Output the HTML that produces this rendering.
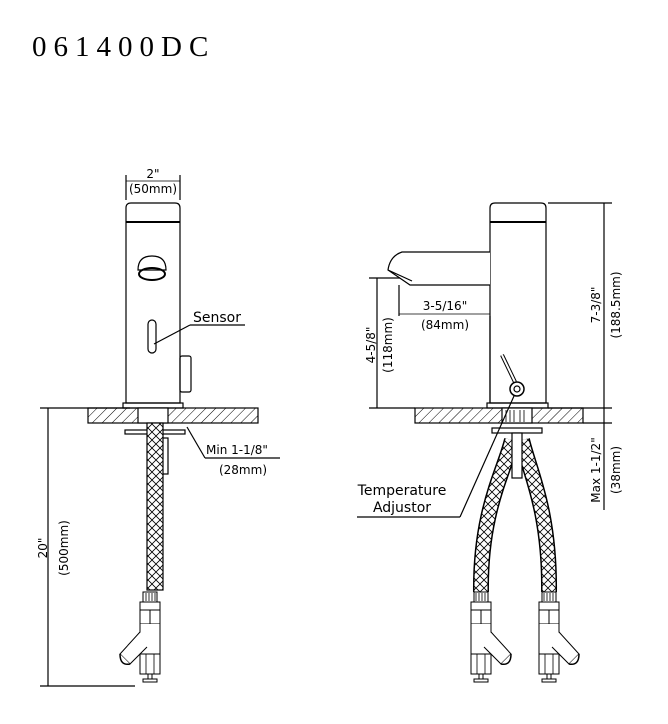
<!DOCTYPE html>
<html><head><meta charset="utf-8"><style>
html,body{margin:0;padding:0;background:#fff;}
svg{display:block;}
text{font-family:"DejaVu Sans","Liberation Sans",sans-serif;fill:#000;}
</style></head><body>
<svg width="668" height="724" viewBox="0 0 668 724" xmlns="http://www.w3.org/2000/svg">
<defs>
<pattern id="hatch" width="7" height="7" patternUnits="userSpaceOnUse" patternTransform="rotate(45)">
<line x1="0" y1="0" x2="0" y2="7" stroke="#000" stroke-width="1"/>
</pattern>
<pattern id="braid" width="8" height="8" patternUnits="userSpaceOnUse">
<rect width="8" height="8" fill="#fff"/>
<path d="M0 0L8 8M8 0L0 8" stroke="#000" stroke-width="0.8"/>
</pattern>
<g id="valveL">
<rect x="-7" y="0" width="14" height="10" fill="#fff" stroke="#000"/>
<path d="M-4 1v8M-1 1v8M2 1v8M5 1v8" stroke="#000" stroke-width="0.8"/>
<rect x="-10" y="10" width="20" height="8" fill="#fff" stroke="#000"/>
<rect x="-10" y="18" width="20" height="14" fill="#fff" stroke="#000"/>
<line x1="0" y1="18" x2="0" y2="32" stroke="#000"/>
<path d="M-10 32 L-10 62 L10 62 L10 32" fill="#fff" stroke="#000"/>
<path d="M-10 40 L-30 62 L-20 72 L-3 55" fill="#fff" stroke="#000"/>
<path d="M-30 62 Q-30 74 -20 72" fill="#fff" stroke="#000" stroke-width="1.5"/>
<rect x="-10" y="62" width="20" height="20" fill="#fff" stroke="#000"/>
<path d="M-4 62v20M4 62v20" stroke="#000" stroke-width="0.8"/>
<rect x="-2" y="82" width="4" height="5" fill="#fff" stroke="#000"/>
<rect x="-7" y="87" width="14" height="3" fill="#fff" stroke="#000"/>
</g>
</defs>

<text x="32" y="56" font-size="29" letter-spacing="7" style="font-family:'Liberation Serif',serif">061400DC</text>

<!-- LEFT VIEW -->
<g fill="none" stroke="#000" stroke-width="1.2">
<path d="M126 403 V208 Q126 203 131 203 H175 Q180 203 180 208 V403 Z" fill="#fff"/>
<line x1="126" y1="222" x2="180" y2="222" stroke-width="2"/>
<path d="M138 270 Q138 256 152 256 Q166 256 166 270 Z" fill="#fff"/>
<ellipse cx="152" cy="274" rx="13" ry="6" stroke-width="2"/>
<rect x="148" y="320" width="8" height="33" rx="4"/>
<line x1="154" y1="344" x2="190" y2="325"/>
<line x1="190" y1="325" x2="245" y2="325"/>
<rect x="180" y="356" width="11" height="36" rx="2"/>
<rect x="123" y="403" width="60" height="5"/>
<rect x="88" y="408" width="170" height="15" fill="url(#hatch)"/>
<rect x="138" y="408" width="30" height="15" fill="#fff"/>
<rect x="125" y="430" width="60" height="4" fill="#fff"/>
<rect x="160" y="438" width="8" height="36" fill="#fff"/>
<rect x="147" y="423" width="16" height="167" fill="url(#braid)"/>
<line x1="126" y1="175" x2="126" y2="200"/>
<line x1="180" y1="175" x2="180" y2="200"/>
<line x1="126" y1="181" x2="180" y2="181" stroke-width="0.8"/>
<line x1="187" y1="427" x2="205" y2="458"/>
<line x1="205" y1="458" x2="280" y2="458"/>
<line x1="48" y1="408" x2="48" y2="686"/>
<line x1="40" y1="408" x2="130" y2="408"/>
<line x1="40" y1="686" x2="135" y2="686"/>
</g>
<use href="#valveL" x="150" y="592"/>
<text x="153" y="178" font-size="12" text-anchor="middle">2"</text>
<text x="153" y="193" font-size="12" text-anchor="middle">(50mm)</text>
<text x="193" y="322" font-size="14">Sensor</text>
<text x="206" y="454" font-size="12">Min 1-1/8"</text>
<text x="243" y="474" font-size="12" text-anchor="middle">(28mm)</text>
<text transform="translate(47,548) rotate(-90)" font-size="12" text-anchor="middle">20"</text>
<text transform="translate(68,548) rotate(-90)" font-size="12" text-anchor="middle">(500mm)</text>

<!-- RIGHT VIEW -->
<g fill="none" stroke="#000" stroke-width="1.2">
<path d="M490 403 V208 Q490 203 495 203 H541 Q546 203 546 208 V403 Z" fill="#fff"/>
<line x1="490" y1="222" x2="546" y2="222" stroke-width="2"/>
<path d="M490 252 H402 Q390 256 388 270 L410 285 H490" fill="#fff"/>
<line x1="388" y1="270" x2="412" y2="281"/>
<line x1="399" y1="285" x2="399" y2="316"/>
<line x1="399" y1="314" x2="490" y2="314" stroke-width="0.8"/>
<line x1="490" y1="316" x2="490" y2="403"/>
<line x1="369" y1="278" x2="400" y2="278"/>
<line x1="377" y1="278" x2="377" y2="408"/>
<line x1="369" y1="408" x2="415" y2="408"/>
<line x1="502" y1="355" x2="515" y2="382" stroke-width="4"/>
<line x1="502" y1="355" x2="515" y2="382" stroke="#fff" stroke-width="2"/>
<circle cx="517" cy="389" r="7" fill="#fff" stroke-width="1.5"/>
<circle cx="517" cy="389" r="3"/>
<rect x="487" y="403" width="61" height="5"/>
<rect x="415" y="408" width="168" height="15" fill="url(#hatch)"/>
<rect x="502" y="408" width="30" height="15" fill="#fff"/>
<path d="M506 410v12M510 410v12M514 410v12M520 410v12M524 410v12" stroke-width="0.8"/>
<rect x="492" y="428" width="50" height="5" fill="#fff"/>
<path d="M512 440 C505 470 480 510 481 592" stroke="#000" stroke-width="16"/>
<path d="M512 440 C505 470 480 510 481 592" stroke="url(#braid)" stroke-width="13"/>
<path d="M522 440 C529 470 550 510 549 592" stroke="#000" stroke-width="16"/>
<path d="M522 440 C529 470 550 510 549 592" stroke="url(#braid)" stroke-width="13"/>
<rect x="512" y="433" width="10" height="45" fill="#fff"/>
<line x1="548" y1="203" x2="612" y2="203"/>
<line x1="548" y1="408" x2="612" y2="408"/>
<line x1="583" y1="423" x2="612" y2="423"/>
<line x1="604" y1="203" x2="604" y2="510"/>
<line x1="357" y1="517" x2="460" y2="517"/>
<line x1="460" y1="517" x2="514" y2="396"/>
</g>
<use href="#valveL" x="481" y="592" transform="translate(962,0) scale(-1,1)"/>
<use href="#valveL" x="549" y="592" transform="translate(1098,0) scale(-1,1)"/>
<text x="445" y="310" font-size="12" text-anchor="middle">3-5/16"</text>
<text x="445" y="329" font-size="12" text-anchor="middle">(84mm)</text>
<text transform="translate(375,345) rotate(-90)" font-size="12" text-anchor="middle">4-5/8"</text>
<text transform="translate(392,345) rotate(-90)" font-size="12" text-anchor="middle">(118mm)</text>
<text transform="translate(600,305) rotate(-90)" font-size="12" text-anchor="middle">7-3/8"</text>
<text transform="translate(620,305) rotate(-90)" font-size="12" text-anchor="middle">(188.5mm)</text>
<text transform="translate(600,470) rotate(-90)" font-size="12" text-anchor="middle">Max 1-1/2"</text>
<text transform="translate(620,470) rotate(-90)" font-size="12" text-anchor="middle">(38mm)</text>
<text x="402" y="495" font-size="14" text-anchor="middle">Temperature</text>
<text x="402" y="512" font-size="14" text-anchor="middle">Adjustor</text>
</svg>
</body></html>
